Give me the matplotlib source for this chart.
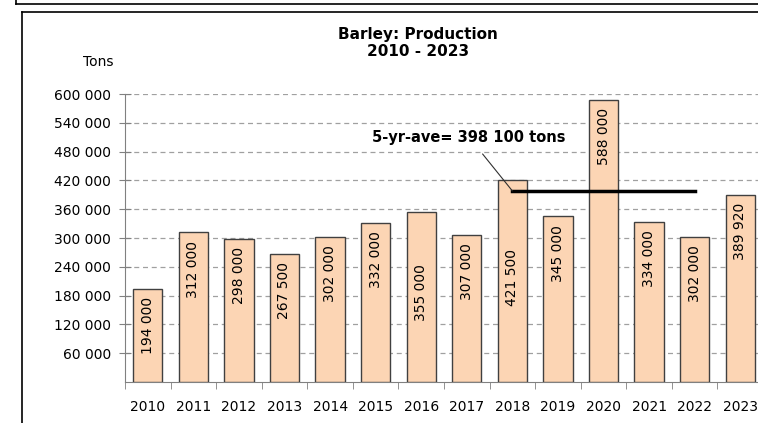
import matplotlib.pyplot as plt
import matplotlib.lines as mlines
import numpy as np

# data
years = [2010, 2011, 2012, 2013, 2014, 2015, 2016, 2017, 2018, 2019, 2020, 2021, 2022, 2023]
production = [194000, 312000, 298000, 267500, 302000, 332000, 355000, 307000,
              421500, 345000, 588000, 334000, 302000, 389920]
labels = ["194 000", "312 000", "298 000", "267 500", "302 000", "332 000", "355 000",
          "307 000", "421 500", "345 000", "588 000", "334 000", "302 000", "389 920"]
avg_years = [2018, 2022]
avg_value = 398100
avg_text = "5-yr-ave= 398 100 tons"
yticks = [60000, 120000, 180000, 240000, 300000, 360000, 420000, 480000, 540000, 600000]
ytick_labels = ["60 000", "120 000", "180 000", "240 000", "300 000", "360 000",
                "420 000", "480 000", "540 000", "600 000"]
mid_labels = [2016, 2018]  # these labels sit lower in the bar

W, H = 758, 423
fig = plt.figure(figsize=(W / 100, H / 100), dpi=100)
ax = fig.add_axes([125 / W, 1 - 382 / H, (763 - 125) / W, (382 - 94) / H])

x = np.arange(len(years))
ax.bar(x, production, width=0.64, color="#FCD5B4", edgecolor="#404040", linewidth=1, zorder=3)

for i, (v, lab) in enumerate(zip(production, labels)):
    if years[i] in mid_labels:
        ax.text(x[i], v / 2 + 8000, lab, rotation=90, ha="center", va="center",
                fontsize=10, zorder=4)
    else:
        ax.annotate(lab, (x[i], v), xytext=(0, -6), textcoords="offset points",
                    rotation=90, ha="center", va="top", fontsize=10, zorder=4)

# 5-yr average line
i0 = years.index(avg_years[0])
i1 = years.index(avg_years[1])
ax.plot([x[i0], x[i1]], [avg_value, avg_value], color="black", lw=2.5, zorder=5)
ax.annotate(avg_text, xy=(x[i0], avg_value), xytext=(x[i0] - 0.95, 510000),
            ha="center", va="center", fontsize=10.5, fontweight="bold",
            arrowprops=dict(arrowstyle="-", color="#303030", lw=0.8,
                            shrinkA=6, shrinkB=0), zorder=6)

ax.set_xlim(-0.5, len(years) - 0.5)
ax.set_ylim(0, 600000)
ax.set_yticks(yticks)
ax.set_yticklabels(ytick_labels, fontsize=10)
ax.set_xticks(x)
ax.set_xticklabels([str(y) for y in years], fontsize=10)
ax.set_xticks(np.arange(len(years)) - 0.5, minor=True)
ax.tick_params(axis="x", which="major", length=0, pad=13)
ax.tick_params(axis="x", which="minor", length=5, color="#808080", direction="out")
ax.tick_params(axis="y", length=8, direction="inout", color="#808080", pad=6)

ax.grid(axis="y", color="#A0A0A0", linestyle=(0, (4, 3)), linewidth=0.9, zorder=0)
for s in ["top", "right"]:
    ax.spines[s].set_visible(False)
ax.spines["left"].set_color("#808080")
ax.spines["bottom"].set_color("#808080")

fig.text(418 / W, 1 - 43 / H, "Barley: Production\n2010 - 2023", ha="center", va="center",
         fontsize=11, fontweight="bold", linespacing=1.15)
fig.text(98 / W, 1 - 62 / H, "Tons", ha="center", va="center", fontsize=10)

# frames
fig.add_artist(mlines.Line2D([16 / W, 1], [1 - 4 / H, 1 - 4 / H], color="black", lw=1.2))
fig.add_artist(mlines.Line2D([16 / W, 16 / W], [1, 1 - 4 / H], color="black", lw=1.2))
fig.add_artist(mlines.Line2D([22 / W, 1], [1 - 12 / H, 1 - 12 / H], color="black", lw=1.2))
fig.add_artist(mlines.Line2D([22 / W, 22 / W], [1 - 12 / H, 0], color="black", lw=1.2))

fig.savefig("out.png", dpi=100)
